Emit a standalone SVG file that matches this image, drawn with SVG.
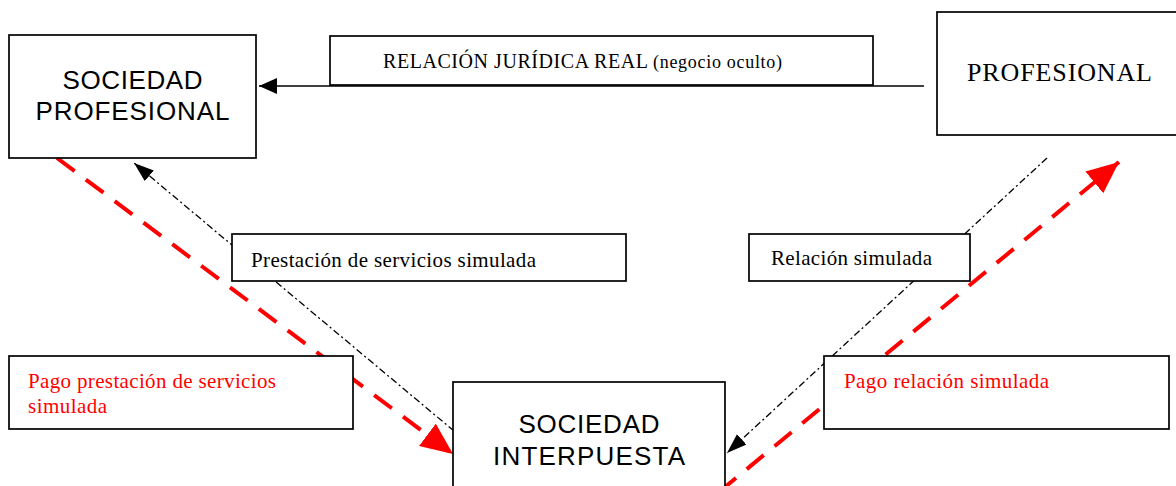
<svg xmlns="http://www.w3.org/2000/svg" width="1176" height="486" viewBox="0 0 1176 486">
<style>
.box{fill:#fff;stroke:#000;stroke-width:1.7}
.sans{font-family:"Liberation Sans",Arial,sans-serif;font-size:26px;fill:#000}
.serif{font-family:"Liberation Serif","Times New Roman",serif;font-size:21px;fill:#000}
.red{fill:#ff0000}
.solid{stroke:#000;stroke-width:1.6;fill:none}
.dashdot{stroke:#000;stroke-width:1.3;fill:none;stroke-dasharray:7 3 2 3}
.reddash{stroke:#ff0000;stroke-width:4;fill:none;stroke-dasharray:22 14}
</style>
<defs>
<marker id="arrBlack" markerUnits="userSpaceOnUse" markerWidth="20" markerHeight="18" refX="18" refY="8" orient="auto" viewBox="0 0 20 18"><path d="M0,0 L18,8 L0,16 Z" fill="#000"/></marker>
<marker id="arrDash" markerUnits="userSpaceOnUse" markerWidth="22" markerHeight="16" refX="20" refY="7" orient="auto" viewBox="0 0 22 16"><path d="M0,0 L20,7 L0,14 Z" fill="#000"/></marker>
<marker id="arrRed" markerUnits="userSpaceOnUse" markerWidth="34" markerHeight="30" refX="32" refY="14" orient="auto" viewBox="0 0 34 30"><path d="M0,0 L32,14 L0,28 Z" fill="#ff0000"/></marker>
</defs>
<rect width="1176" height="486" fill="#fff"/>
<g id="connectors">
<line class="solid" x1="924" y1="86" x2="259" y2="86" marker-end="url(#arrBlack)"/>
<line class="dashdot" x1="454" y1="431" x2="134" y2="163" marker-end="url(#arrDash)"/>
<line class="dashdot" x1="1047" y1="158" x2="727" y2="453" marker-end="url(#arrDash)"/>
<line class="reddash" x1="57" y1="158" x2="453" y2="454" marker-end="url(#arrRed)"/>
<line class="reddash" x1="719" y1="492" x2="1119" y2="162" marker-end="url(#arrRed)"/>
</g>
<g id="sociedad-profesional">
<rect class="box" x="9" y="35" width="247" height="123"/>
<text class="sans" x="132.5" y="89" text-anchor="middle" textLength="140">SOCIEDAD</text>
<text class="sans" x="132.5" y="120" text-anchor="middle" textLength="194">PROFESIONAL</text>
</g>
<g id="relacion-juridica">
<rect class="box" x="330" y="36" width="543" height="49"/>
<text class="serif" x="383" y="68" style="font-size:20px" textLength="265">RELACIÓN JURÍDICA REAL</text>
<text class="serif" x="653" y="68" style="font-size:18px" textLength="129">(negocio oculto)</text>
</g>
<g id="profesional">
<rect class="box" x="937" y="12" width="250" height="123"/>
<text class="serif" x="967" y="81" style="font-size:26px" textLength="185">PROFESIONAL</text>
</g>
<g id="prestacion-simulada">
<rect class="box" x="232" y="234" width="394" height="47"/>
<text class="serif" x="251" y="267" textLength="285">Prestación de servicios simulada</text>
</g>
<g id="relacion-simulada">
<rect class="box" x="749" y="234" width="221" height="47"/>
<text class="serif" x="771" y="265" textLength="161">Relación simulada</text>
</g>
<g id="pago-prestacion">
<rect class="box" x="9" y="356" width="344" height="73"/>
<text class="serif red" x="28" y="388" textLength="248">Pago prestación de servicios</text>
<text class="serif red" x="28" y="413" textLength="79">simulada</text>
</g>
<g id="pago-relacion">
<rect class="box" x="824" y="356" width="345" height="73"/>
<text class="serif red" x="844" y="388" textLength="205">Pago relación simulada</text>
</g>
<g id="sociedad-interpuesta">
<rect class="box" x="453" y="382" width="272" height="120"/>
<text class="sans" x="589" y="433" text-anchor="middle" textLength="141">SOCIEDAD</text>
<text class="sans" x="589" y="465" text-anchor="middle" textLength="192">INTERPUESTA</text>
</g>
</svg>
